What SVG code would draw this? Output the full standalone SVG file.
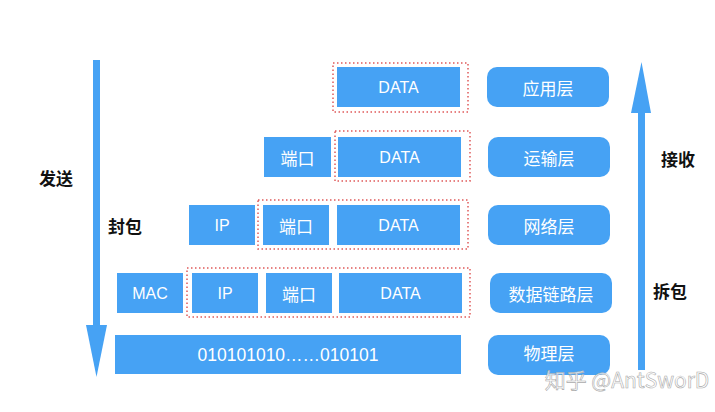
<svg xmlns="http://www.w3.org/2000/svg" width="715" height="412" viewBox="0 0 715 412">
<style>
.b{fill:#46a2f4}
.r{fill:#46a2f4}
.d{fill:none;stroke:#e05a5a;stroke-width:1.5;stroke-dasharray:1.5 2.5}
.t{fill:#fff;font-family:"Helvetica","Liberation Sans","Noto Sans CJK SC",sans-serif;font-size:16px;text-anchor:middle;dominant-baseline:central}
.c{fill:#fff;font-family:"Noto Sans CJK SC",sans-serif;font-size:17px;text-anchor:middle;dominant-baseline:central}
.k{fill:#111;font-family:"Noto Sans CJK SC",sans-serif;font-size:17px;font-weight:bold;text-anchor:middle;dominant-baseline:central}
</style>
<rect width="715" height="412" fill="#fff"/>
<g id="connectors">
<rect x="93" y="60" width="7" height="268" fill="#46a2f4"/>
<polygon points="86,325 107,325 96.5,377" fill="#46a2f4"/>
<rect x="638" y="110" width="7" height="260" fill="#46a2f4"/>
<polygon points="631,113 651,113 641.5,62" fill="#46a2f4"/>
</g>
<g id="labels">
<text class="k" x="56" y="177">发送</text>
<text class="k" x="125" y="225">封包</text>
<text class="k" x="678" y="158">接收</text>
<text class="k" x="670" y="290">拆包</text>
</g>
<g id="row1">
<rect class="d" x="333" y="63" width="135" height="49"/>
<rect class="b" x="337" y="67" width="123" height="40"/>
<text class="t" x="398.5" y="87">DATA</text>
</g>
<g id="row2">
<rect class="b" x="264" y="137" width="67" height="40"/>
<text class="c" x="297.5" y="157">端口</text>
<rect class="d" x="335" y="131" width="135" height="50"/>
<rect class="b" x="338" y="137" width="123" height="40"/>
<text class="t" x="399.5" y="157">DATA</text>
</g>
<g id="row3">
<rect class="b" x="189" y="205" width="66" height="40"/>
<text class="t" x="222" y="225">IP</text>
<rect class="d" x="258" y="200" width="210" height="49"/>
<rect class="b" x="263" y="205" width="66" height="40"/>
<text class="c" x="296" y="225">端口</text>
<rect class="b" x="337" y="205" width="123" height="40"/>
<text class="t" x="398.5" y="225">DATA</text>
</g>
<g id="row4">
<rect class="b" x="117" y="273" width="66" height="40"/>
<text class="t" x="150" y="293">MAC</text>
<rect class="d" x="187" y="268" width="283" height="49"/>
<rect class="b" x="192" y="273" width="66" height="40"/>
<text class="t" x="225" y="293">IP</text>
<rect class="b" x="266" y="273" width="66" height="40"/>
<text class="c" x="299" y="293">端口</text>
<rect class="b" x="339" y="273" width="123" height="40"/>
<text class="t" x="400.5" y="293">DATA</text>
</g>
<g id="row5">
<rect class="b" x="115" y="335" width="346" height="39"/>
<text class="t" x="288" y="355" style="font-size:17.5px">010101010……010101</text>
</g>
<g id="layer-app"><rect class="r" x="487" y="67" width="122" height="40" rx="10"/><text class="c" x="548" y="87">应用层</text></g>
<g id="layer-transport"><rect class="r" x="488" y="137" width="122" height="40" rx="10"/><text class="c" x="549" y="157">运输层</text></g>
<g id="layer-network"><rect class="r" x="488" y="205" width="122" height="40" rx="10"/><text class="c" x="549" y="225">网络层</text></g>
<g id="layer-link"><rect class="r" x="490" y="273" width="122" height="40" rx="10"/><text class="c" x="551" y="293">数据链路层</text></g>
<g id="layer-phys"><rect class="r" x="488" y="335" width="122" height="40" rx="10"/><text class="c" x="549" y="352">物理层</text></g>
<text x="627" y="379" fill="#fff" fill-opacity="0.75" stroke="#aaa" stroke-width="0.6" font-family="Noto Sans CJK SC, sans-serif" font-size="21" text-anchor="middle" dominant-baseline="central">知乎 @AntSworD</text>
</svg>
